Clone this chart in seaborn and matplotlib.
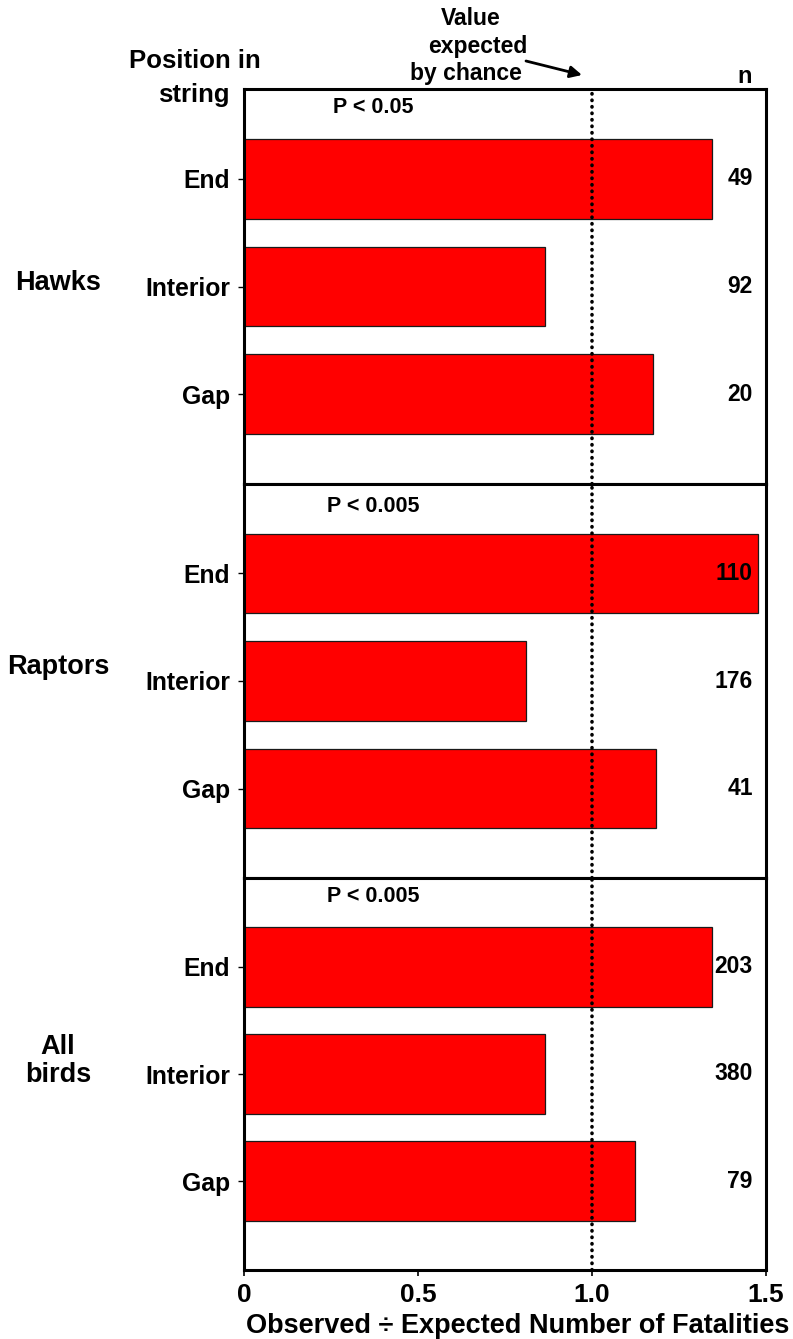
import matplotlib
matplotlib.use("Agg")
import matplotlib.pyplot as plt
from matplotlib.patches import FancyArrowPatch
import seaborn as sns
import pandas as pd

# Observed / expected fatality ratios by turbine position in string
groups = ["Hawks", "Raptors", "All birds"]
group_labels = ["Hawks", "Raptors", "All\nbirds"]
positions = ["End", "Interior", "Gap"]
hawks_ratio = [1.344, 0.865, 1.176]
raptors_ratio = [1.476, 0.810, 1.183]
allbirds_ratio = [1.344, 0.864, 1.123]
hawks_n = [49, 92, 20]
raptors_n = [110, 176, 41]
allbirds_n = [203, 380, 79]
p_labels = ["P < 0.05", "P < 0.005", "P < 0.005"]
xticks = [0, 0.5, 1.0, 1.5]
xtick_labels = ["0", "0.5", "1.0", "1.5"]

ratios = [hawks_ratio, raptors_ratio, allbirds_ratio]
counts = [hawks_n, raptors_n, allbirds_n]

df = pd.DataFrame({
    "group": [g for g in groups for _ in positions],
    "position": positions * len(groups),
    "ratio": [v for r in ratios for v in r],
    "n": [v for c in counts for v in c],
})

sns.set_theme(style="white")
plt.rcParams["font.family"] = ["Liberation Sans", "DejaVu Sans"]
plt.rcParams["font.weight"] = "bold"
plt.rcParams["text.color"] = "black"
plt.rcParams["xtick.color"] = "black"
plt.rcParams["ytick.color"] = "black"

W, H = 793, 1339
fig = plt.figure(figsize=(W / 100, H / 100), dpi=100)


def fx(px):
    return px / W


def fy(py):
    return 1 - py / H


left, right = fx(244), fx(766)
edges = [fy(89), fy(484), fy(878), fy(1270)]
axes = []
for i in range(3):
    ax = fig.add_axes([left, edges[i + 1], right - left, edges[i] - edges[i + 1]])
    axes.append(ax)

group_y = [283, 667, 1061]
p_y = [-0.66, -0.62, -0.66]

for i, (ax, g) in enumerate(zip(axes, groups)):
    sub = df[df["group"] == g]
    sns.barplot(data=sub, x="ratio", y="position", order=positions, color="#ff0000",
                saturation=1, width=0.74, edgecolor="#1a1a1a", linewidth=0.9, ax=ax)
    ax.set_xlim(0, 1.5)
    ax.set_ylim(2.83, -0.83)
    # reference line for the value expected by chance
    ax.axvline(1.0, color="black", linestyle=(0, (0.1, 1.7)), linewidth=2.6,
               dash_capstyle="round", zorder=5)
    for sp in ax.spines.values():
        sp.set_linewidth(2.2)
        sp.set_color("black")
    ax.set_ylabel("")
    ax.set_xlabel("")
    ax.tick_params(axis="y", left=True, length=4, width=1.0, direction="out",
                   labelsize=17.8, pad=6)
    for lab in ax.get_yticklabels():
        lab.set_fontweight("bold")
    # sample sizes at the right edge
    for j, nv in enumerate(sub["n"]):
        ax.text(1.462, j, str(nv), ha="right", va="center", fontsize=16.5, fontweight="bold")
    ax.text(0.37, p_y[i], p_labels[i], ha="center", va="center", fontsize=15.5, fontweight="bold")
    fig.text(fx(58), fy(group_y[i]), group_labels[i], ha="center", va="center",
             fontsize=19.5, fontweight="bold", linespacing=1.15)
    if i < 2:
        ax.set_xticks([])
    else:
        ax.set_xticks(xticks)
        ax.set_xticklabels(xtick_labels, fontsize=19, fontweight="bold")
        ax.tick_params(axis="x", length=4, width=1.2, pad=5, bottom=True, direction="out")

fig.text(fx(518), fy(1333), "Observed \u00f7 Expected Number of Fatalities", ha="center",
         va="baseline", fontsize=19.5, fontweight="bold")

# header texts
fig.text(fx(195), fy(68), "Position in", ha="center", va="baseline", fontsize=18.5, fontweight="bold")
fig.text(fx(194), fy(102), "string", ha="center", va="baseline", fontsize=18.5, fontweight="bold")
fig.text(fx(745), fy(83), "n", ha="center", va="baseline", fontsize=17, fontweight="bold")
fig.text(fx(471), fy(25), "Value", ha="center", va="baseline", fontsize=16.5, fontweight="bold")
fig.text(fx(478), fy(53), "expected", ha="center", va="baseline", fontsize=16.5, fontweight="bold")
fig.text(fx(466), fy(80), "by chance", ha="center", va="baseline", fontsize=16.5, fontweight="bold")
fig.add_artist(FancyArrowPatch(
    (fx(526), fy(61)), (fx(582), fy(75)), transform=fig.transFigure,
    arrowstyle="-|>,head_length=7,head_width=3.5", color="black", linewidth=2,
    shrinkA=0, shrinkB=0))

fig.savefig("out.png", dpi=100)
